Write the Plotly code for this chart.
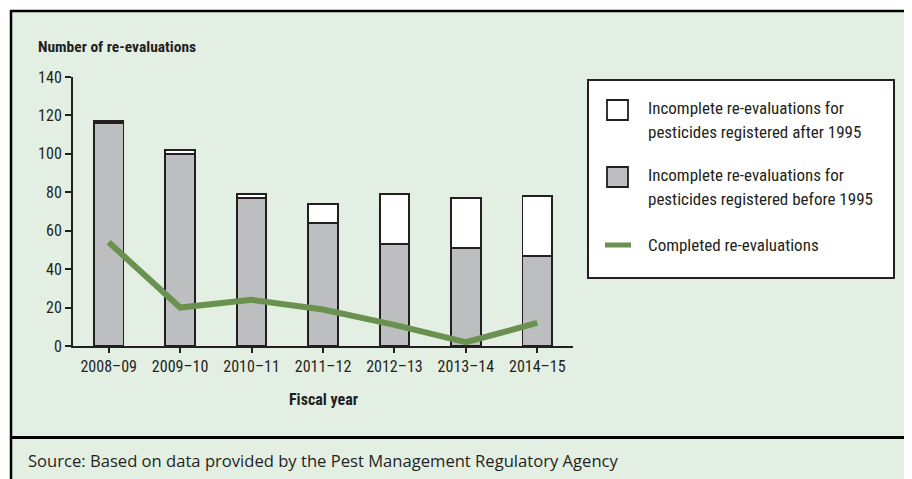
import plotly.graph_objects as go

years = ["2008–09", "2009–10", "2010–11", "2011–12", "2012–13", "2013–14", "2014–15"]
before_1995 = [116, 100, 77, 64, 53, 51, 47]
after_1995 = [1, 2, 2, 10, 26, 26, 31]
completed = [54, 20, 24, 19, 11, 2, 12]
y_ticks = [0, 20, 40, 60, 80, 100, 120, 140]

# Page body adds an 8px margin; screen-pixel layout targets below
OFF = 8
SW, SH = 912, 479
W, H = SW - OFF, SH - OFF
L, R, T, B = 73, 573, 77, 346  # plot area in screen pixels

GREEN_BG = "#E4EFE4"
GRAY = "#BCBEC0"
INK = "#231F20"
LINE_GREEN = "#6A9150"
NARROW = "Liberation Sans Narrow, Arial Narrow, Roboto Condensed, sans-serif"
REG = "Open Sans, Noto Sans, sans-serif"


def px(x):
    return (x - L) / (R - L)


def py(y):
    return (B - y) / (B - T)


fig = go.Figure()
fig.add_trace(go.Bar(x=years, y=before_1995, marker=dict(color=GRAY, line=dict(color=INK, width=1.8)),
                     name="Incomplete re-evaluations for pesticides registered before 1995"))
fig.add_trace(go.Bar(x=years, y=after_1995, marker=dict(color="white", line=dict(color=INK, width=1.8)),
                     name="Incomplete re-evaluations for pesticides registered after 1995"))
fig.add_trace(go.Scatter(x=years, y=completed, mode="lines", line=dict(color=LINE_GREEN, width=6),
                         name="Completed re-evaluations"))

shapes = [
    # green panel
    dict(type="rect", xref="paper", yref="paper", x0=px(11), x1=px(SW + 5), y0=py(SH + 5), y1=py(11),
         fillcolor=GREEN_BG, line=dict(width=0), layer="below"),
    dict(type="line", xref="paper", yref="paper", x0=px(10), x1=px(SW + 5), y0=py(11), y1=py(11),
         line=dict(color="black", width=2.5), layer="below"),
    dict(type="line", xref="paper", yref="paper", x0=px(11), x1=px(11), y0=py(10), y1=py(SH + 5),
         line=dict(color="black", width=2.5), layer="below"),
    dict(type="line", xref="paper", yref="paper", x0=px(11), x1=px(SW + 5), y0=py(437.5), y1=py(437.5),
         line=dict(color="black", width=3), layer="below"),
    # legend box
    dict(type="rect", xref="paper", yref="paper", x0=px(588), x1=px(894), y0=py(278), y1=py(80),
         fillcolor="white", line=dict(color=INK, width=2), layer="above"),
    dict(type="rect", xref="paper", yref="paper", x0=px(607), x1=px(628), y0=py(120), y1=py(100),
         fillcolor="white", line=dict(color=INK, width=1.8), layer="above"),
    dict(type="rect", xref="paper", yref="paper", x0=px(607), x1=px(628), y0=py(187), y1=py(167),
         fillcolor=GRAY, line=dict(color=INK, width=1.8), layer="above"),
    dict(type="line", xref="paper", yref="paper", x0=px(605), x1=px(631), y0=py(245), y1=py(245),
         line=dict(color=LINE_GREEN, width=5), layer="above"),
]

legend_texts = [
    ("Incomplete re-evaluations for", 108),
    ("pesticides registered after 1995", 131.5),
    ("Incomplete re-evaluations for", 175),
    ("pesticides registered before 1995", 198.5),
    ("Completed re-evaluations", 245),
]
annotations = []
for txt, yy in legend_texts:
    annotations.append(dict(text=txt, xref="paper", yref="paper", x=px(646), y=py(yy), xanchor="left",
                            yanchor="middle", showarrow=False, font=dict(family=NARROW, size=17, color=INK)))
annotations += [
    dict(text="<b>Number of re-evaluations</b>", xref="paper", yref="paper", x=px(36), y=py(47),
         xanchor="left", yanchor="middle", showarrow=False, font=dict(family=NARROW, size=15.5, color=INK)),
    dict(text="<b>Fiscal year</b>", xref="paper", yref="paper", x=0.5, y=py(399),
         xanchor="center", yanchor="middle", showarrow=False, font=dict(family=NARROW, size=16, color=INK)),
    dict(text="Source: Based on data provided by the Pest Management Regulatory Agency", xref="paper",
         yref="paper", x=px(26), y=py(460), xanchor="left", yanchor="middle", showarrow=False,
         font=dict(family=REG, size=16.6, color=INK)),
]

fig.update_layout(
    width=W, height=H,
    margin=dict(l=L - OFF, r=SW - R, t=T - OFF, b=SH - B, pad=0),
    paper_bgcolor="white", plot_bgcolor="rgba(0,0,0,0)",
    barmode="stack", bargap=0.585,
    showlegend=False,
    shapes=shapes, annotations=annotations,
    xaxis=dict(type="category", range=[-0.5, 6.5], showgrid=False, showline=True, linecolor=INK, linewidth=2,
               ticks="outside", ticklen=5, tickwidth=1.5, tickcolor=INK,
               tickfont=dict(family=NARROW, size=16, color=INK)),
    yaxis=dict(range=[0, 140], tickvals=y_ticks, showgrid=False, zeroline=False, showline=True, linecolor=INK,
               linewidth=2, ticks="outside", ticklen=6, tickwidth=2, tickcolor=INK,
               tickfont=dict(family=NARROW, size=16, color=INK)),
)

fig.write_html("out.html")
